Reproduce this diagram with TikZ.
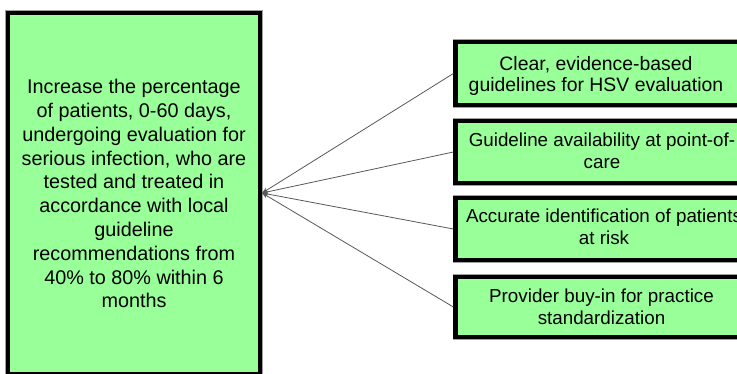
\documentclass[tikz,border=0pt]{standalone}
\usepackage{fontspec}
\setmainfont{Liberation Sans}
\usetikzlibrary{arrows.meta}
\definecolor{boxgreen}{HTML}{99FF99}
\definecolor{linkgray}{HTML}{585858}
\definecolor{halo}{HTML}{A0A0A0}
\tikzset{
  box/.style={draw=black, line width=4.25pt, fill=boxgreen, inner sep=0pt,
    preaction={draw=halo, line width=6pt}},
  goaltext/.style={align=center, font=\fontsize{19.8}{23.8}\selectfont},
  drivertext/.style={align=center, inner sep=0pt, font=\fontsize{18.8}{21.8}\selectfont},
  driver/.style={box, minimum width=289pt, minimum height=62pt},
  link/.style={draw=linkgray, line width=0.8pt, -{Stealth[length=6pt,width=5pt]}}
}
\begin{document}
\begin{tikzpicture}[x=1pt,y=-1pt]
  \useasboundingbox (0,0) rectangle (737,373);
  \clip (0,0) rectangle (737,373);
  % aim on the left
  \node[box, goaltext, minimum width=252pt, minimum height=361.6pt] (goal) at (134,193.8)
    {Increase the percentage\\ of patients, 0-60 days,\\ undergoing evaluation for\\
     serious infection, who are\\ tested and treated in\\ accordance with local\\
     guideline\\ recommendations from\\ 40\% to 80\% within 6\\ months};
  % driver boxes on the right, running past the edge
  \node[driver, minimum height=63pt] (d1) at (600,73.5) {};
  \node[driver] (d2) at (600,152) {};
  \node[driver] (d3) at (600,229) {};
  \node[driver, minimum height=60pt] (d4) at (600,307) {};
  % driver texts
  \node[drivertext, font=\fontsize{19.4}{21.8}\selectfont] (d1t) at (596,75.9)
    {Clear, evidence-based\\ guidelines for HSV evaluation};
  \node[drivertext] (d2t) at (602,150.8) {Guideline availability at point-of-\\ care};
  \node[drivertext] (d3t) at (604,227) {Accurate identification of patients\\ at risk};
  \node[drivertext] (d4t) at (601.5,307) {Provider buy-in for practice\\ standardization};
  % links from each driver to the aim
  \coordinate (hub) at (goal.east |- 0,193);
  \foreach \d in {d1,d2,d3,d4}
    \draw[link] (\d.west) -- (hub);
\end{tikzpicture}
\end{document}
